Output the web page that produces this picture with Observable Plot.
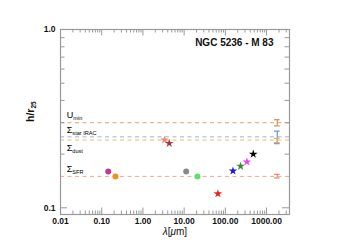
<!DOCTYPE html>
<html><head><meta charset="utf-8">
<script src="https://cdn.jsdelivr.net/npm/d3@7"></script>
<script src="https://cdn.jsdelivr.net/npm/@observablehq/plot@0.6"></script>
<style>
body{margin:0;background:#fff}
#chart svg{display:block;background:linear-gradient(to right,#fff 20px,#fbfbfb 20px,#fbfbfb 333px,#fff 333px)}
</style>
</head><body><div id="chart"></div>
<script>
// Data
const bands = ["FUV","NUV","IRAC 3.6","IRAC 4.5","IRAC 8","MIPS 24","PACS 70","PACS 160","SPIRE 250","SPIRE 350","SPIRE 500"];
const wavelengths = [0.144, 0.216, 3.34, 4.35, 11.2, 21, 66, 153, 234, 333, 475];
const scaleRatios = [0.160, 0.150, 0.240, 0.230, 0.160, 0.150, 0.120, 0.161, 0.171, 0.181, 0.200];
const markerShapes = ["circle","circle","star","star","circle","circle","star","star","star","star","star"];
const markerColors = ["#c03a92","#f0901c","#f08a70","#a03838","#8a8a8a","#5fe06a","#e82020","#1a1ae0","#3a8a3a","#f040f0","#000000"];

const paramNames = ["U_min","Σ_star IRAC","Σ_dust","Σ_SFR"];
const paramValues = [0.300, 0.250, 0.240, 0.150];
const paramLow = [0.288, 0.229, 0.232, 0.147];
const paramHigh = [0.312, 0.269, 0.245, 0.154];
const paramLineColors = ["#e8a060","#9db0e8","#e8c070","#f0a898"];
const paramBarColors = ["#d0905c","#6f8fe0","#e0b060","#e88878"];
const paramLabelY = [0.329, 0.274, 0.217, 0.165];
const paramLabelX = 0.0142;
const errorBarX = 1820;

const xMajorTicks = [0.01, 0.1, 1, 10, 100, 1000];
const xTickLabels = ["0.01","0.10","1.00","10.00","100.00","1000.00"];
const yMajorTicks = [0.1, 1];
const yTickLabels = ["0.1","1.0"];
const yMinorTicks = [0.2,0.3,0.4,0.5,0.6,0.7,0.8,0.9];

const title = "NGC 5236 - M 83";
const xLabel = "λ[μm]";
const yLabel = "h/r_25";

// Layout
const W = 347, H = 245, mL = 60, mR = 58, mT = 29, mB = 31;
const iW = W - mL - mR, iH = H - mT - mB;
const xMinorTicks = xMajorTicks.flatMap(d => [2,3,4,5,6,7,8,9].map(k => d*k)).filter(v => v < 3600);

const points = bands.map((b,i) => ({band:b, x:wavelengths[i], y:scaleRatios[i], shape:markerShapes[i], color:markerColors[i]}));
const params = paramNames.map((n,i) => ({name:n, v:paramValues[i], lo:paramLow[i], hi:paramHigh[i], lc:paramLineColors[i], bc:paramBarColors[i], ly:paramLabelY[i]}));
const circles = points.filter(d => d.shape === "circle");
const stars = points.filter(d => d.shape === "star");
const axisColor = "#9a9a9a";

const plot = Plot.plot({
  width: W, height: H,
  marginLeft: mL, marginRight: mR, marginTop: mT, marginBottom: mB,
  style: {fontFamily: "'Liberation Sans', Arial, sans-serif", fontSize: "8.5px", fontWeight: "bold", color: "#111", background: "transparent"},
  x: {type: "log", domain: [0.01, 3600], axis: null},
  y: {type: "log", domain: [0.0917, 1.0], axis: null},
  marks: [
    // dashed parameter lines
    Plot.ruleY(params, {y: "v", stroke: "lc", strokeWidth: 1, strokeDasharray: "4,3.5"}),
    // ticks: bottom/top
    Plot.ruleX(xMajorTicks, {x: d => d, insetTop: iH - 6.5, stroke: axisColor}),
    Plot.ruleX(xMinorTicks, {x: d => d, insetTop: iH - 3.5, stroke: axisColor}),
    Plot.ruleX(xMajorTicks, {x: d => d, insetBottom: iH - 6.5, stroke: axisColor}),
    Plot.ruleX(xMinorTicks, {x: d => d, insetBottom: iH - 3.5, stroke: axisColor}),
    // ticks: left/right
    Plot.ruleY(yMajorTicks, {y: d => d, insetRight: iW - 7, stroke: axisColor}),
    Plot.ruleY(yMinorTicks, {y: d => d, insetRight: iW - 4.5, stroke: axisColor}),
    Plot.ruleY(yMajorTicks, {y: d => d, insetLeft: iW - 7, stroke: axisColor}),
    Plot.ruleY(yMinorTicks, {y: d => d, insetLeft: iW - 4.5, stroke: axisColor}),
    Plot.frame({stroke: axisColor, strokeWidth: 1.2}),
    // tick labels
    Plot.text(xMajorTicks, {x: d => d, frameAnchor: "bottom", dy: 7, lineAnchor: "middle", text: (d,i) => xTickLabels[i]}),
    Plot.text(yMajorTicks, {y: d => d, frameAnchor: "left", dx: -5, textAnchor: "end", lineAnchor: "middle", text: (d,i) => yTickLabels[i]}),
    // error bars
    Plot.ruleX(params, {x: () => errorBarX, y1: "lo", y2: "hi", stroke: "bc", strokeWidth: 1.2}),
    Plot.ruleY(params, {x1: () => errorBarX, x2: () => errorBarX, y: "lo", insetLeft: -2.8, insetRight: -2.8, stroke: "bc", strokeWidth: 1.2}),
    Plot.ruleY(params, {x1: () => errorBarX, x2: () => errorBarX, y: "hi", insetLeft: -2.8, insetRight: -2.8, stroke: "bc", strokeWidth: 1.2}),
    // data
    Plot.dot(circles, {x: "x", y: "y", r: 3, fill: "color", stroke: "none", symbol: "circle"}),
    Plot.dot(stars, {x: "x", y: "y", r: 2.7, fill: "color", stroke: "none", symbol: "star"}),
    // param labels
    Plot.text(params, {x: () => paramLabelX, y: "ly", text: "name", textAnchor: "start", lineAnchor: "middle", fontSize: 9, fontWeight: "normal", fill: "black"}),
    // title and axis labels
    Plot.text([title], {frameAnchor: "top-right", dx: -16, dy: 13, textAnchor: "end", lineAnchor: "middle", text: d => d, fontSize: 10, fontWeight: "bold"}),
    Plot.text([xLabel], {frameAnchor: "bottom", dy: 17, lineAnchor: "middle", text: d => d, fontSize: 10, fontWeight: "normal"}),
    Plot.text([yLabel], {frameAnchor: "left", dx: -30, rotate: -90, lineAnchor: "middle", text: d => d, fontSize: 10.5, fontWeight: "bold"})
  ]
});

// subscripts and italics
const ns = "http://www.w3.org/2000/svg";
plot.querySelectorAll("text").forEach(t => {
  const s = t.textContent;
  const i = s.indexOf("_");
  if (i >= 0) {
    t.textContent = "";
    const a = document.createElementNS(ns, "tspan"); a.textContent = s.slice(0, i);
    const b = document.createElementNS(ns, "tspan"); b.textContent = s.slice(i + 1);
    b.setAttribute("font-size", "0.62em"); b.setAttribute("dy", "0.35em");
    t.append(a, b);
  } else if (s === xLabel) {
    t.textContent = "";
    [["λ",true],["[",false],["μ",true],["m]",false]].forEach(([c,it]) => {
      const sp = document.createElementNS(ns, "tspan"); sp.textContent = c;
      if (it) sp.setAttribute("font-style", "italic");
      t.append(sp);
    });
  }
});
document.getElementById("chart").append(plot);
</script>
</body></html>
